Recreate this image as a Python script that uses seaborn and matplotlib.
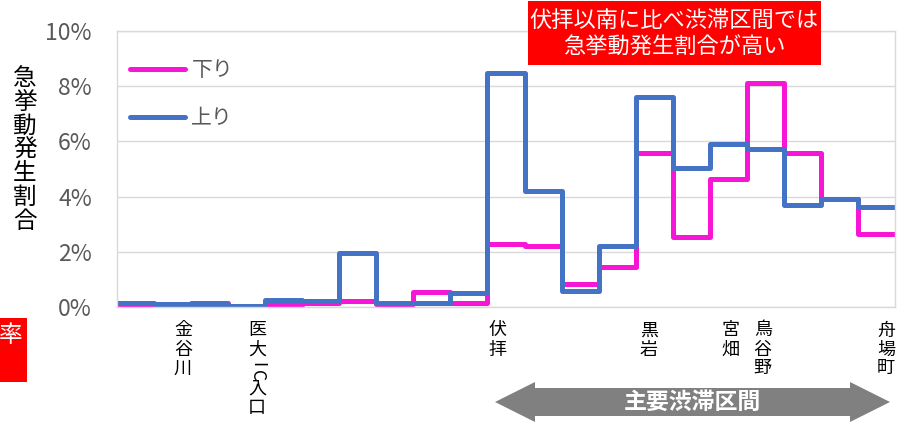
import numpy as np
import pandas as pd
import matplotlib
matplotlib.use("Agg")
import matplotlib.pyplot as plt
import matplotlib.transforms as mtransforms
import seaborn as sns
from matplotlib.patches import Rectangle, Polygon
from matplotlib.lines import Line2D

# ---------------- data ----------------
series_names = ["下り", "上り"]
down_rate = [0.02, 0.10, 0.15, 0.04, 0.07, 0.15, 0.22, 0.10, 0.53, 0.13, 2.27,
             2.21, 0.83, 1.46, 5.57, 2.55, 4.64, 8.10, 5.57, 3.91, 2.63]
up_rate = [0.15, 0.10, 0.10, 0.05, 0.27, 0.20, 1.94, 0.13, 0.15, 0.52, 8.49,
           4.20, 0.59, 2.21, 7.62, 5.02, 5.90, 5.72, 3.70, 3.91, 3.62]
stations = ["金谷川", "医大IC入口", "伏拝", "黒岩", "宮畑", "鳥谷野", "舟場町"]
station_pos = [1.78, 3.78, 10.27, 14.35, 16.57, 17.43, 20.76]
y_ticks = [0, 2, 4, 6, 8, 10]
y_label = "急挙動発生割合"
note_text = "伏拝以南に比べ渋滞区間では\n急挙動発生割合が高い"
arrow_text = "主要渋滞区間"
side_text = "率"

colors = {"下り": "#F715D6", "上り": "#4472C4"}

# ---------------- frame ----------------
rows = []
for name, vals in zip(series_names, [down_rate, up_rate]):
    stepped = list(vals) + [vals[-1]]
    for i, v in enumerate(stepped):
        rows.append({"pos": i, "rate": v, "dir": name})
df = pd.DataFrame(rows)

sns.set_theme(style="white")
plt.rcParams["font.family"] = ["Noto Sans CJK JP", "DejaVu Sans"]

W, H = 899, 422
fig = plt.figure(figsize=(W / 100, H / 100), dpi=100)
ax = fig.add_axes([117 / W, 115 / H, 778 / W, 276 / H])

sns.lineplot(data=df, x="pos", y="rate", hue="dir", hue_order=series_names,
             palette=colors, drawstyle="steps-post", linewidth=3.6,
             estimator=None, sort=False, legend=False, ax=ax)

n = len(down_rate)
ax.set_xlim(0, n)
ax.set_ylim(0, 10)
ax.set_yticks(y_ticks)
ax.set_yticklabels([f"{t}%" for t in y_ticks])
ax.set_xticks([])
ax.set_xlabel("")
ax.set_ylabel("")

ax.set_axisbelow(True)
ax.yaxis.grid(True, color="#D9D9D9", linewidth=1.0)
ax.xaxis.grid(False)
for sp in ax.spines.values():
    sp.set_visible(True)
    sp.set_color("#D9D9D9")
    sp.set_linewidth(1.0)
ax.tick_params(axis="y", length=0, labelsize=16.5, labelcolor="#595959", pad=18)

handles = [Line2D([0], [0], color=colors[s], lw=3.6, solid_capstyle="round")
           for s in series_names]
ax.legend(handles, series_names, loc="upper left",
          bbox_to_anchor=(13 / 778, (276 - 28) / 276), frameon=False,
          fontsize=15, labelcolor="#595959", handlelength=2.65,
          handletextpad=0.3, labelspacing=1.25, borderpad=0, borderaxespad=0)


def fy(y):
    return 1 - y / H


def px(x, y):
    return (x / W, fy(y))


# vertical (stacked) station labels: CJK upright, latin rotated
blend = mtransforms.blended_transform_factory(ax.transData, fig.transFigure)
for name, xpos in zip(stations, station_pos):
    top = 322.0
    for ch in name:
        if ch.isascii():
            ax.text(xpos, fy(top + 5), ch, transform=blend, rotation=-90,
                    ha="center", va="center", fontsize=12.5, color="black")
            top += 10.0
        else:
            ax.text(xpos, fy(top + 8.5), ch, transform=blend,
                    ha="center", va="center", fontsize=13, color="black")
            top += 19.0

# y label as stacked characters
for i, ch in enumerate(y_label):
    fig.text(25 / W, fy(78.5 + 23.8 * i), ch, ha="center", va="center",
             fontsize=17, color="black")

# red note box
fig.patches.append(Rectangle(px(528, 65), 293 / W, 64 / H, transform=fig.transFigure,
                             facecolor="#FF0000", edgecolor="none", zorder=5))
fig.text(*px(674.5, 34), note_text, ha="center", va="center", fontsize=16,
         color="white", linespacing=1.22, zorder=6)

# red side box (cut off at the figure edge, as in the source)
fig.patches.append(Rectangle(px(0, 382), 27 / W, 64 / H, transform=fig.transFigure,
                             facecolor="#FF0000", edgecolor="none", zorder=5))
fig.text(*px(10.5, 336), side_text, ha="center", va="center", fontsize=17,
         color="white", zorder=6)

# double arrow
pts = [(495, 402), (535, 382), (535, 388), (850, 388), (850, 382), (890, 402),
       (850, 422), (850, 416), (535, 416), (535, 422)]
fig.patches.append(Polygon([px(x, y) for x, y in pts], closed=True,
                           transform=fig.transFigure, facecolor="#808080",
                           edgecolor="none", zorder=5))
fig.text(*px(692, 402), arrow_text, ha="center", va="center", fontsize=16.5,
         fontweight="bold", color="white", zorder=6)

fig.savefig("out.png", dpi=100)
